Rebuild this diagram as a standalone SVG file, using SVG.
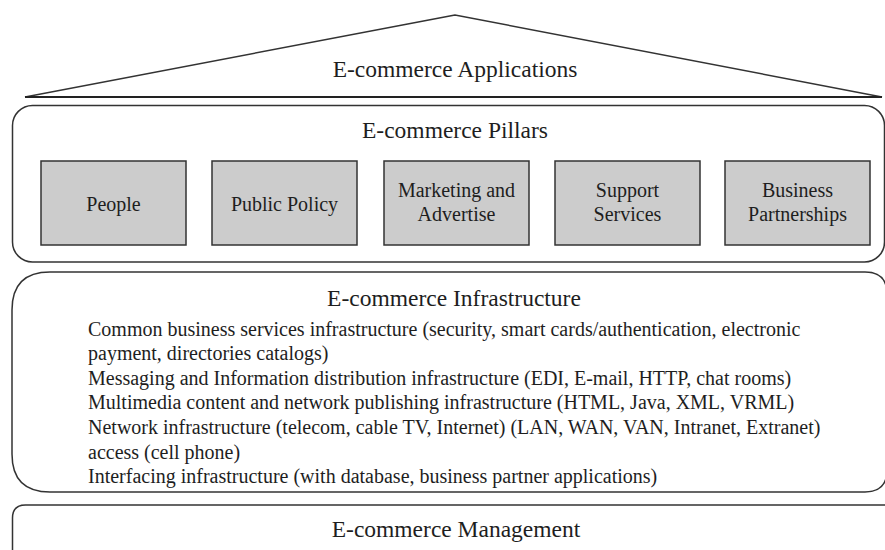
<svg xmlns="http://www.w3.org/2000/svg" width="885" height="550" viewBox="0 0 885 550">
  <style>
    text { font-family: 'Liberation Serif', 'DejaVu Serif', 'Times New Roman', Times, serif; fill: #1e1e1e; }
    .frame { fill: #ffffff; stroke: #333333; stroke-width: 1.5; }
    .pillar { fill: #cccccc; stroke: #333333; stroke-width: 1.5; }
    .title { font-size: 23.5px; text-anchor: middle; }
    .label { font-size: 20px; text-anchor: middle; }
    .body { font-size: 20px; }
  </style>

  <!-- Roof: applications -->
  <g id="applications">
    <polygon class="frame" points="455,15 25,97 882,97"/>
    <line x1="25" y1="97" x2="882" y2="97" stroke="#222222" stroke-width="2"/>
    <text class="title" x="455" y="77">E-commerce Applications</text>
  </g>

  <!-- Pillars band -->
  <g id="pillars">
    <rect class="frame" x="12.5" y="105.5" width="872" height="156.5" rx="20" ry="20"/>
    <text class="title" x="455" y="138">E-commerce Pillars</text>
  </g>

  <g id="pillar-people">
    <rect class="pillar" x="41" y="161" width="145" height="84"/>
    <text class="label" x="113.5" y="211">People</text>
  </g>
  <g id="pillar-public-policy">
    <rect class="pillar" x="212" y="161" width="145" height="84"/>
    <text class="label" x="284.5" y="211">Public Policy</text>
  </g>
  <g id="pillar-marketing">
    <rect class="pillar" x="384" y="161" width="145" height="84"/>
    <text class="label" x="456.5" y="197">Marketing and</text>
    <text class="label" x="456.5" y="221">Advertise</text>
  </g>
  <g id="pillar-support">
    <rect class="pillar" x="555" y="161" width="145" height="84"/>
    <text class="label" x="627.5" y="197">Support</text>
    <text class="label" x="627.5" y="221">Services</text>
  </g>
  <g id="pillar-business">
    <rect class="pillar" x="725" y="161" width="145" height="84"/>
    <text class="label" x="797.5" y="197">Business</text>
    <text class="label" x="797.5" y="221">Partnerships</text>
  </g>

  <!-- Infrastructure band -->
  <g id="infrastructure">
    <path class="frame" d="M50,272 H865 Q887,272 887,294 V470 Q887,492 865,492 H50 Q12,492 12,454 V310 Q12,272 50,272 Z"/>
    <text class="title" x="454" y="306">E-commerce Infrastructure</text>
    <text class="body" x="88" y="336">Common business services infrastructure (security, smart cards/authentication, electronic</text>
    <text class="body" x="88" y="360">payment, directories catalogs)</text>
    <text class="body" x="88" y="385">Messaging and Information distribution infrastructure (EDI, E-mail, HTTP, chat rooms)</text>
    <text class="body" x="88" y="409">Multimedia content and network publishing infrastructure (HTML, Java, XML, VRML)</text>
    <text class="body" x="88" y="434">Network infrastructure (telecom, cable TV, Internet) (LAN, WAN, VAN, Intranet, Extranet)</text>
    <text class="body" x="88" y="459">access (cell phone)</text>
    <text class="body" x="88" y="483">Interfacing infrastructure (with database, business partner applications)</text>
  </g>

  <!-- Management band (continues past the bottom and right edges) -->
  <g id="management">
    <path class="frame" d="M12.5,560 V518 Q12.5,505 25.5,505 H890 V560 Z"/>
    <text class="title" x="456" y="537">E-commerce Management</text>
  </g>

  <g id="connectors"/>
</svg>
